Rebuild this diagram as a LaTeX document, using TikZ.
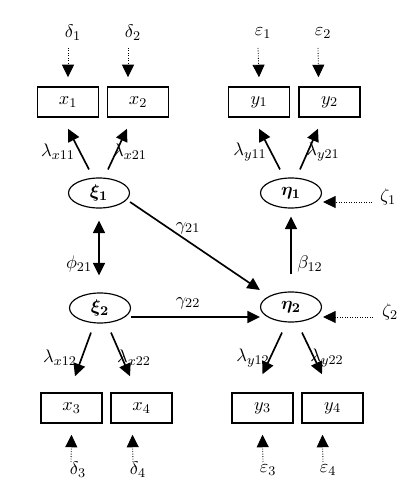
\documentclass[tikz,border=0pt]{standalone}
\usepackage{amsmath,bm}
\usetikzlibrary{shapes.geometric,arrows.meta}
\begin{document}
\begin{tikzpicture}[x=0.6pt,y=0.6pt,
 font=\fontsize{11}{13}\selectfont,
 obs/.style={draw,line width=0.9pt,minimum width=36.6pt,minimum height=18pt,inner sep=0pt},
 lat/.style={draw,ellipse,line width=0.7pt,minimum width=36.6pt,minimum height=18pt,inner sep=0pt},
 lbl/.style={inner sep=0pt},
 tip/.tip={Triangle[width=7.2pt,length=7.5pt]},
 arr/.style={line width=1pt,-tip},
 err/.style={line width=0.5pt,densely dotted,-tip},
 dbl/.style={line width=1pt,tip-tip}]
\useasboundingbox (0,0) rectangle (417,502);
% observed
\node[obs] (x1) at (68,400) {$x_1$};
\node[obs] (x2) at (138,400) {$x_2$};
\node[obs] (y1) at (259,400) {$y_1$};
\node[obs] (y2) at (329.5,400) {$y_2$};
\node[obs] (x3) at (71.5,94) {$x_3$};
\node[obs] (x4) at (141.5,94) {$x_4$};
\node[obs] (y3) at (262.5,94) {$y_3$};
\node[obs] (y4) at (332.5,94) {$y_4$};
% latent
\node[lat] (xi1) at (99,309) {$\bm{\xi_1}$};
\node[lat] (eta1) at (291,309) {$\bm{\eta_1}$};
\node[lat] (xi2) at (100,194) {$\bm{\xi_2}$};
\node[lat] (eta2) at (291,195) {$\bm{\eta_2}$};
% error labels
\node[lbl] (d1) at (73,469) {$\delta_1$};
\node[lbl] (d2) at (133,469) {$\delta_2$};
\node[lbl] (e1) at (263,469) {$\varepsilon_1$};
\node[lbl] (e2) at (323,469) {$\varepsilon_2$};
\node[lbl] (d3) at (78,32) {$\delta_3$};
\node[lbl] (d4) at (138,32) {$\delta_4$};
\node[lbl] (e3) at (268,32) {$\varepsilon_3$};
\node[lbl] (e4) at (328,32) {$\varepsilon_4$};
\node[lbl] (z1) at (388,305) {$\zeta_1$};
\node[lbl] (z2) at (390,190) {$\zeta_2$};
% path labels
\node[lbl] (lx11) at (58,350) {$\lambda_{x11}$};
\node[lbl] (lx21) at (130,350) {$\lambda_{x21}$};
\node[lbl] (ly11) at (250,350) {$\lambda_{y11}$};
\node[lbl] (ly21) at (323,350) {$\lambda_{y21}$};
\node[lbl] (lx12) at (60,144) {$\lambda_{x12}$};
\node[lbl] (lx22) at (134,144) {$\lambda_{x22}$};
\node[lbl] (ly12) at (253,144) {$\lambda_{y12}$};
\node[lbl] (ly22) at (327,144) {$\lambda_{y22}$};
\node[lbl] (g21) at (188,274) {$\gamma_{21}$};
\node[lbl] (g22) at (188,199) {$\gamma_{22}$};
\node[lbl] (phi) at (79,238) {$\phi_{21}$};
\node[lbl] (b12) at (310,238) {$\beta_{12}$};
% error arrows
\draw[err] ([shift={(-5,-15)}]d1.center) -- ([shift={(0,9)}]x1.north);
\draw[err] ([shift={(-5,-15)}]d2.center) -- ([shift={(-10,9)}]x2.north);
\draw[err] ([shift={(-5,-15)}]e1.center) -- ([shift={(0,9)}]y1.north);
\draw[err] ([shift={(-5,-15)}]e2.center) -- ([shift={(-11,9)}]y2.north);
\draw[err] ([shift={(-7,8)}]d3.center) -- ([shift={(0,-11)}]x3.south);
\draw[err] ([shift={(-5,8)}]d4.center) -- ([shift={(-9,-11)}]x4.south);
\draw[err] ([shift={(-5,8)}]e3.center) -- ([shift={(0,-11)}]y3.south);
\draw[err] ([shift={(-5,8)}]e4.center) -- ([shift={(-10,-11)}]y4.south);
\draw[err] ([shift={(-16,-5)}]z1.center) -- ([shift={(1,-9)}]eta1.east);
\draw[err] ([shift={(-17,-5)}]z2.center) -- ([shift={(1,-10)}]eta2.east);
% loadings
\draw[arr] ([shift={(-10,8)}]xi1.north) -- ([shift={(0,-11)}]x1.south);
\draw[arr] ([shift={(9,8)}]xi1.north) -- ([shift={(-11,-11)}]x2.south);
\draw[arr] ([shift={(-11,8)}]eta1.north) -- ([shift={(0,-11)}]y1.south);
\draw[arr] ([shift={(9,8)}]eta1.north) -- ([shift={(-11.5,-11)}]y2.south);
\draw[arr] ([shift={(-9,-9)}]xi2.south) -- ([shift={(3.5,16)}]x3.north);
\draw[arr] ([shift={(11,-9)}]xi2.south) -- ([shift={(-11.5,16)}]x4.north);
\draw[arr] ([shift={(-9,-10)}]eta2.south) -- ([shift={(0,18)}]y3.north);
\draw[arr] ([shift={(11,-10)}]eta2.south) -- ([shift={(-10.5,18)}]y4.north);
% structural
\draw[arr] ([shift={(0,-9)}]xi1.east) -- ([shift={(0,17)}]eta2.west);
\draw[arr] ([shift={(0,-9)}]xi2.east) -- ([shift={(0,-10)}]eta2.west);
\draw[arr] ([shift={(0,17)}]eta2.north) -- ([shift={(0,-8)}]eta1.south);
\draw[dbl] ([shift={(0,-12)}]xi1.south) -- ([shift={(-1,17)}]xi2.north);
\end{tikzpicture}
\end{document}
